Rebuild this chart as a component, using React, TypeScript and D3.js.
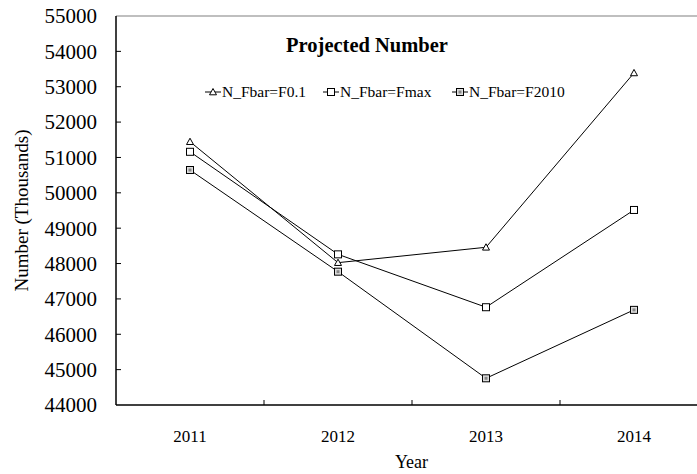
import React from "react";
import * as d3 from "d3";

const years = ["2011", "2012", "2013", "2014"];
const seriesNames = ["N_Fbar=F0.1", "N_Fbar=Fmax", "N_Fbar=F2010"];
const f01 = [51445, 48025, 48460, 53390];
const fmax = [51160, 48260, 46765, 49515];
const f2010 = [50645, 47770, 44755, 46690];
const yTicks = [44000, 45000, 46000, 47000, 48000, 49000, 50000, 51000, 52000, 53000, 54000, 55000];

const W = 697, H = 474;
const left = 116, top = 16, bottom = 405;
const bandW = 148;

function Marker({ kind, x, y }: { kind: number; x: number; y: number }) {
  if (kind === 0) {
    const s = 3.5;
    return <path d={`M${x},${y - s}L${x + s},${y + s * 0.8}L${x - s},${y + s * 0.8}Z`} fill="white" stroke="#000" strokeWidth={1} />;
  }
  if (kind === 1) {
    return <rect x={x - 3.5} y={y - 3.5} width={7} height={7} fill="white" stroke="#000" strokeWidth={1} />;
  }
  return (
    <g>
      <rect x={x - 3.5} y={y - 3.5} width={7} height={7} fill="#ddd" stroke="#000" strokeWidth={1} />
      <rect x={x - 1.5} y={y - 1.5} width={3} height={3} fill="#888" stroke="none" />
    </g>
  );
}

export default function App() {
  const x = d3.scaleBand<string>().domain(years).range([left, left + bandW * years.length]).padding(0);
  const y = d3.scaleLinear().domain([44000, 55000]).range([bottom, top]);
  const line = d3.line<number>().x((_, i) => x(years[i])! + x.bandwidth() / 2).y((d) => y(d));
  const all = [f01, fmax, f2010];
  const font = "'Liberation Serif', 'Times New Roman', serif";
  const legendX = [205, 323, 452];
  const legendY = 92;

  return (
    <svg width={W} height={H} style={{ position: "absolute", left: 0, top: 0, background: "white" }} fontFamily={font}>
      <rect width={W} height={H} fill="white" />
      <line x1={left} x2={W} y1={top} y2={top} stroke="#aaa" strokeWidth={1.5} />
      <line x1={left} x2={left} y1={top} y2={bottom} stroke="#000" strokeWidth={1.5} />
      <line x1={left} x2={W} y1={bottom} y2={bottom} stroke="#000" strokeWidth={1.5} />
      {yTicks.map((t) => (
        <g key={t}>
          {t !== 44000 && t !== 55000 && <line x1={left} x2={left + 5} y1={y(t)} y2={y(t)} stroke="#000" />}
          <text x={97} y={y(t)} dy="0.35em" textAnchor="end" fontSize={21} fill="#000">{t}</text>
        </g>
      ))}
      {years.map((yr, i) => (
        <g key={yr}>
          {i > 0 && <line x1={x(yr)!} x2={x(yr)!} y1={bottom} y2={bottom - 5} stroke="#000" />}
          <text x={x(yr)! + x.bandwidth() / 2} y={436} dy="0.35em" textAnchor="middle" fontSize={17} fill="#000">{yr}</text>
        </g>
      ))}
      <text x={(left + 707) / 2} y={462} dy="0.35em" textAnchor="middle" fontSize={18} fill="#000">Year</text>
      <text transform={`translate(21,${(top + bottom) / 2}) rotate(-90)`} textAnchor="middle" dy="0.35em" fontSize={19} fill="#000">Number (Thousands)</text>
      <text x={367} y={45} dy="0.35em" textAnchor="middle" fontSize={20.5} fontWeight="bold" fill="#000">Projected Number</text>
      {all.map((s, k) => (
        <g key={k}>
          <path d={line(s)!} fill="none" stroke="#000" strokeWidth={1} />
          {s.map((v, i) => (
            <Marker key={i} kind={k} x={x(years[i])! + x.bandwidth() / 2} y={y(v)} />
          ))}
        </g>
      ))}
      {seriesNames.map((n, k) => (
        <g key={n}>
          <line x1={legendX[k]} x2={legendX[k] + 16} y1={legendY} y2={legendY} stroke="#000" />
          <Marker kind={k} x={legendX[k] + 8} y={legendY} />
          <text x={legendX[k] + 17} y={legendY} dy="0.35em" fontSize={15.5} fill="#000">{n}</text>
        </g>
      ))}
    </svg>
  );
}
